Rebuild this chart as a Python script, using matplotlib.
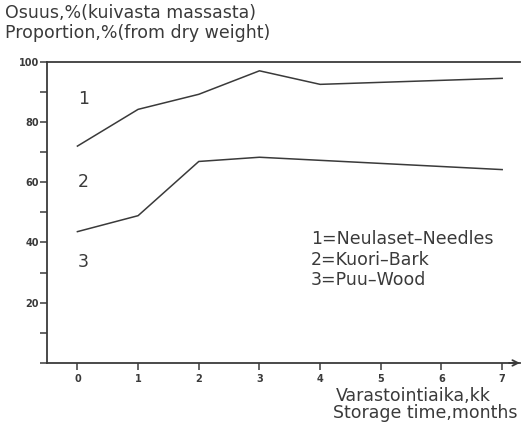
import matplotlib.pyplot as plt

needle_months = [0, 1, 2, 3, 4, 7]
needles = [72, 84.2, 89.2, 97, 92.5, 94.5]
bark_months = [0, 1, 2, 3, 7]
bark = [43.6, 48.9, 66.9, 68.3, 64.2]
yticks = [0, 20, 40, 60, 80, 100]
ytick_labels = ['', '20', '40', '60', '80', '100']
xticks = [0, 1, 2, 3, 4, 5, 6, 7]
region_labels = ['1', '2', '3']
region_y = [87.5, 60, 33.5]
legend_lines = ['1=Neulaset\u2013Needles', '2=Kuori\u2013Bark', '3=Puu\u2013Wood']

plt.rcParams['font.family'] = ['DejaVu Sans']
ink = '#3a3a3a'
fs = 12.5

fig = plt.figure(figsize=(5.23, 4.26), dpi=100)
ax = fig.add_axes([0.09, 0.148, 0.905, 0.707])
ax.set_xlim(-0.5, 7.3)
ax.set_ylim(0, 100)

ax.plot(needle_months, needles, color=ink, lw=1.1)
ax.plot(bark_months, bark, color=ink, lw=1.1)

ax.spines['right'].set_visible(False)
for s in ['left', 'bottom', 'top']:
    ax.spines[s].set_color(ink)
    ax.spines[s].set_linewidth(1.3)

ax.set_yticks(yticks)
ax.set_yticklabels(ytick_labels, fontsize=7, fontweight='bold', color=ink)
ax.set_yticks([10, 30, 50, 70, 90], minor=True)
ax.set_xticks(xticks)
ax.set_xticklabels([str(v) for v in xticks], fontsize=7, fontweight='bold', color=ink)
ax.tick_params(axis='both', which='both', direction='out', length=5, width=1.1, color=ink, pad=3)
ax.tick_params(axis='y', pad=1)

# arrow at end of x axis
ax.annotate('', xy=(1.005, 0), xytext=(0.97, 0), xycoords='axes fraction',
            arrowprops=dict(arrowstyle='->', color=ink, lw=1.3), annotation_clip=False)

for lab, yv in zip(region_labels, region_y):
    ax.text(0.1, yv, lab, fontsize=fs, color=ink, ha='center', va='center')

for i, t in enumerate(legend_lines):
    ax.text(3.85, 41 - i * 6.7, t, fontsize=fs, color=ink, ha='left', va='center')

fig.text(0.01, 0.969, 'Osuus,%(kuivasta massasta)', fontsize=fs, color=ink, va='center')
fig.text(0.01, 0.922, 'Proportion,%(from dry weight)', fontsize=fs, color=ink, va='center')
fig.text(0.643, 0.07, 'Varastointiaika,kk', fontsize=fs, color=ink, va='center', ha='left')
fig.text(0.637, 0.03, 'Storage time,months', fontsize=fs, color=ink, va='center', ha='left')

fig.savefig('out.png', dpi=100, facecolor='white')
